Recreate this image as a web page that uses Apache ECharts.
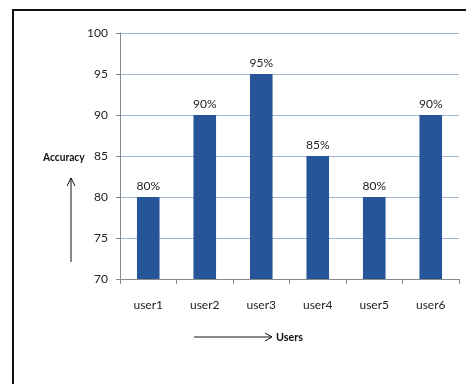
<!DOCTYPE html>
<html><head><meta charset="utf-8">
<script src="https://cdn.jsdelivr.net/npm/echarts@6/dist/echarts.min.js"></script>
<style>html,body{margin:0;padding:0;background:#fff}#c{width:466px;height:384px}</style>
</head><body><div id="c"></div>
<script>
var categories = ['user1','user2','user3','user4','user5','user6'];
var accuracy = [80, 90, 95, 85, 80, 90];
var yTicks = [70, 75, 80, 85, 90, 95, 100];
var FONT = 'Lato, "Liberation Sans Narrow", sans-serif';
var chart = echarts.init(document.getElementById('c'));
chart.setOption({
  animation: false,
  backgroundColor: '#fff',
  grid: {left: 120, top: 33, right: 7, bottom: 105, containLabel: false},
  xAxis: {
    type: 'category', data: categories,
    axisLine: {lineStyle: {color: '#8a8a8a', width: 1}},
    axisTick: {show: true, length: 5, lineStyle: {color: '#8a8a8a'}},
    axisLabel: {color: '#222', fontFamily: FONT, fontSize: 12, margin: 20}
  },
  yAxis: {
    type: 'value', min: yTicks[0], max: yTicks[yTicks.length-1], interval: 5,
    axisLine: {show: true, lineStyle: {color: '#8a8a8a', width: 1}},
    axisTick: {show: true, length: 4, lineStyle: {color: '#8a8a8a'}},
    axisLabel: {color: '#222', fontFamily: FONT, fontSize: 12, margin: 12},
    splitLine: {lineStyle: {color: '#9fb6cc', width: 1}}
  },
  series: [{
    type: 'bar', data: accuracy, barWidth: '40%',
    itemStyle: {color: '#265599'},
    label: {show: true, position: 'top', formatter: '{c}%', color: '#222',
      fontFamily: FONT, fontSize: 12, distance: 5}
  }],
  graphic: [
    {type: 'rect', shape: {x: 13, y: 10, width: 470, height: 390},
      style: {fill: 'none', stroke: '#111', lineWidth: 2}, z: 100},
    {type: 'text', x: 43, y: 151, scaleX: 0.85, style: {text: 'Accuracy', fill: '#111',
      font: 'bold 12px ' + FONT}},
    {type: 'line', shape: {x1: 71, y1: 262, x2: 71, y2: 178}, style: {stroke: '#111', lineWidth: 1}},
    {type: 'polyline', shape: {points: [[67, 186], [71, 178], [75, 186]]}, style: {stroke: '#111', lineWidth: 1, fill: 'none'}},
    {type: 'line', shape: {x1: 194, y1: 337, x2: 272, y2: 337}, style: {stroke: '#111', lineWidth: 1}},
    {type: 'polyline', shape: {points: [[265, 333], [272, 337], [265, 341]]}, style: {stroke: '#111', lineWidth: 1, fill: 'none'}},
    {type: 'text', x: 276, y: 331, scaleX: 0.9, style: {text: 'Users', fill: '#111',
      font: 'bold 12px ' + FONT}}
  ]
});
</script></body></html>
